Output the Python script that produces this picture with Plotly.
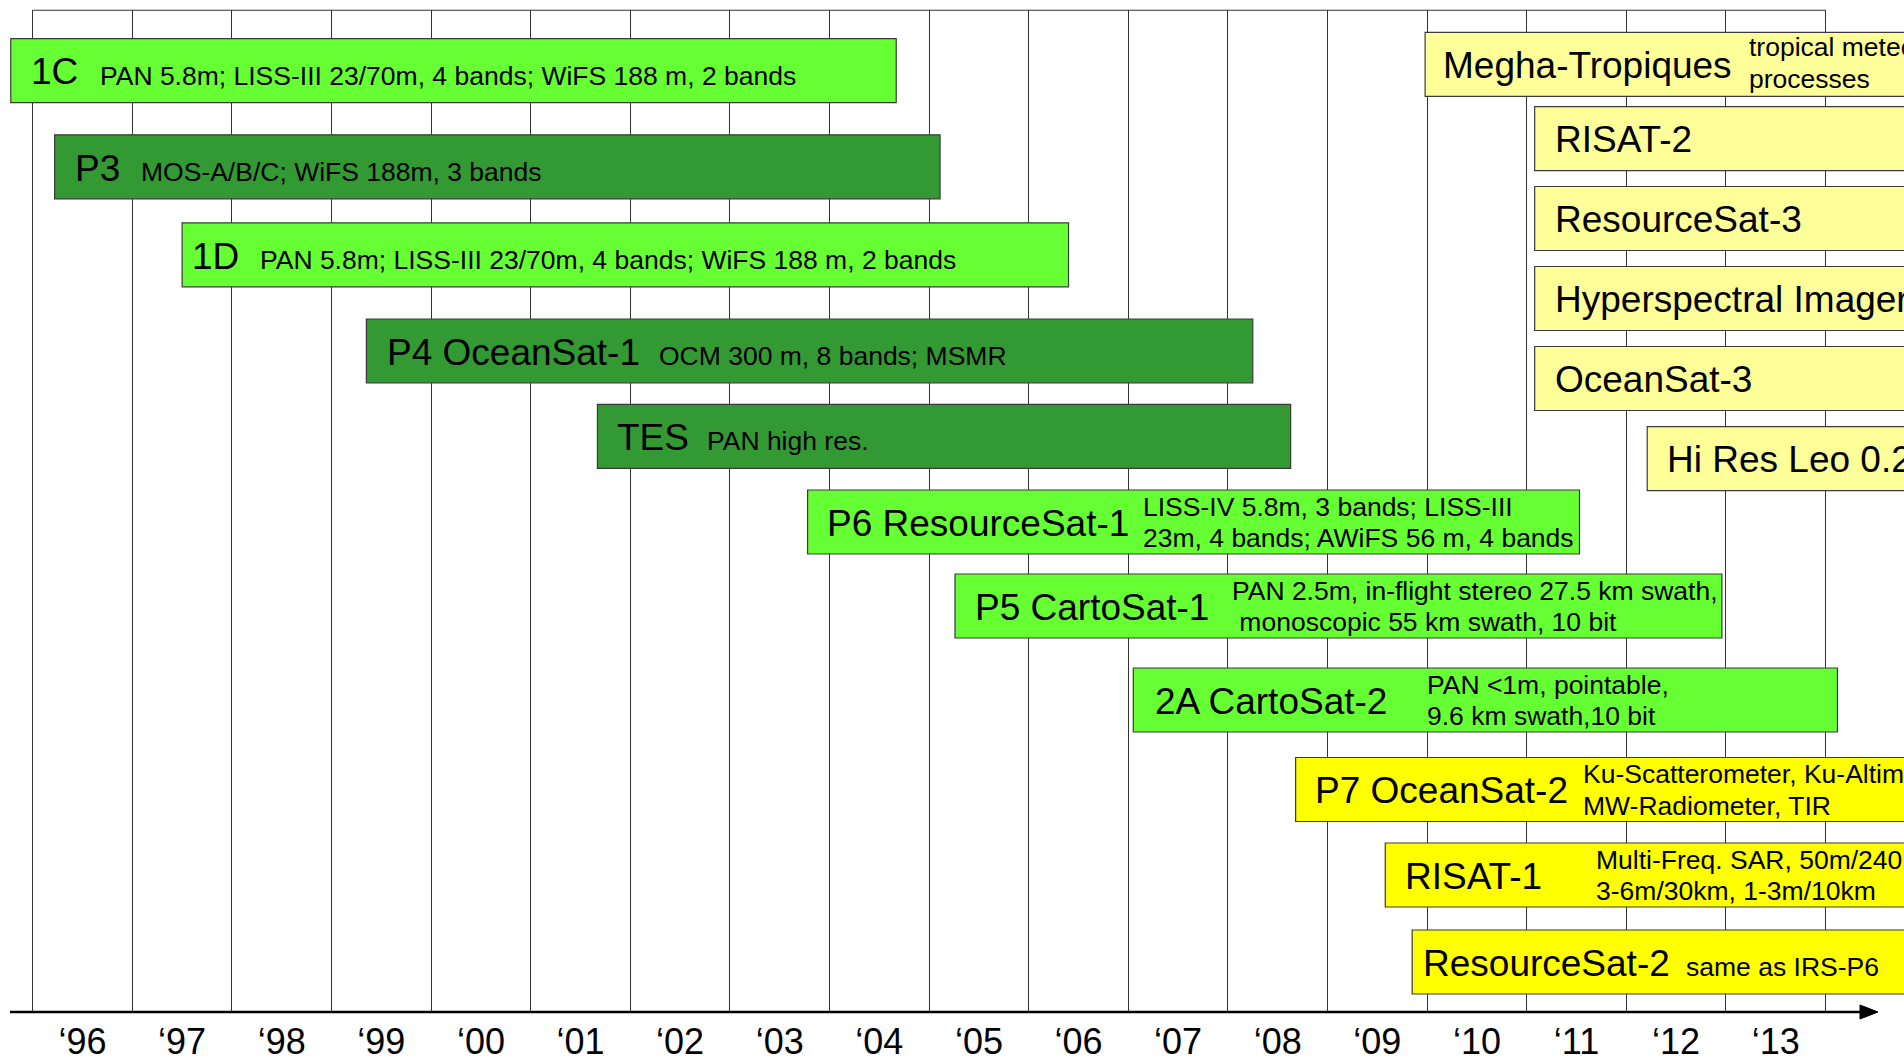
import plotly.graph_objects as go

# ------------------------------------------------------------------ data
satellites = [
    "1C", "P3", "1D", "P4 OceanSat-1", "TES", "P6 ResourceSat-1",
    "P5 CartoSat-1", "2A CartoSat-2", "P7 OceanSat-2", "RISAT-1",
    "ResourceSat-2", "Megha-Tropiques", "RISAT-2", "ResourceSat-3",
    "Hyperspectral Imager", "OceanSat-3", "Hi Res Leo 0.25m",
]
details = [
    "PAN 5.8m; LISS-III 23/70m, 4 bands; WiFS 188 m, 2 bands",
    "MOS-A/B/C; WiFS 188m, 3 bands",
    "PAN 5.8m; LISS-III 23/70m, 4 bands; WiFS 188 m, 2 bands",
    "OCM 300 m, 8 bands; MSMR",
    "PAN high res.",
    "LISS-IV 5.8m, 3 bands; LISS-III<br>23m, 4 bands; AWiFS 56 m, 4 bands",
    "PAN 2.5m, in-flight stereo 27.5 km swath,<br> monoscopic 55 km swath, 10 bit",
    "PAN &lt;1m, pointable,<br>9.6 km swath,10 bit",
    "Ku-Scatterometer, Ku-Altimeter,<br>MW-Radiometer, TIR",
    "Multi-Freq. SAR, 50m/240km,<br>3-6m/30km, 1-3m/10km",
    "same as IRS-P6",
    "tropical meteorology<br>processes",
    "", "", "", "", "",
]
start_year = [1995.78, 1996.22, 1997.50, 1999.35, 2001.67, 2003.78, 2005.26,
              2007.05, 2008.68, 2009.58, 2009.85, 2009.98, 2011.08, 2011.08,
              2011.08, 2011.08, 2012.21]
end_year = [2004.67, 2005.11, 2006.40, 2008.25, 2008.63, 2011.53, 2012.96,
            2014.12, 2015.5, 2015.5, 2015.5, 2015.5, 2015.5, 2015.5,
            2015.5, 2015.5, 2015.5]
group = ["IRS", "IRS-B", "IRS", "IRS-B", "IRS-B", "IRS", "IRS", "IRS",
         "NEXT", "NEXT", "NEXT", "PLAN", "PLAN", "PLAN", "PLAN", "PLAN", "PLAN"]
# vertical lane of each bar (chart row coordinate, top = small)
lane = [70.7, 166.8, 254.8, 351.0, 436.3, 522.0, 606.0, 700.0, 789.5, 875.0,
        962.0, 64.3, 138.7, 218.5, 298.5, 378.5, 458.7]
years = list(range(1996, 2014))
year_labels = ["\u2018%02d" % (y % 100) for y in years]

# ------------------------------------------------------------------ style / layout
W, H = 1904, 1061
PX0, PXY = 32.7, 99.6            # pixel of 1996 boundary, pixels per year
X0 = 1996 - PX0 / PXY
X1 = X0 + W / PXY
AXIS_PX, TOP_PX = 1012.0, 10.3


def px2yr(px):
    return X0 + px / PXY


def py(px):
    return 1 - px / H


COLORS = {"IRS": "#66FF33", "IRS-B": "#339933", "NEXT": "#FFFF00", "PLAN": "#FFFF99"}
FONT = "Arial, 'Liberation Sans', sans-serif"
BIG, SMALL = 37, 26.5
# text placement (pixels)
label_px = [31.7, 76.0, 192.7, 387.7, 618.3, 828.0, 975.7, 1155.7, 1315.8,
            1406.0, 1424.0, 1444.0, 1555.7, 1555.7, 1555.7, 1555.7, 1667.6]
desc_px = [100.0, 141.7, 260.0, 659.3, 707.7, 1143.0, 1232.0, 1427.7, 1583.3,
           1596.7, 1686.0, 1749.3, None, None, None, None, None]

fig = go.Figure()
fig.add_trace(go.Bar(
    orientation="h",
    y=lane,
    base=start_year,
    x=[e - s for s, e in zip(start_year, end_year)],
    width=64,
    marker=dict(color=[COLORS[g] for g in group],
                line=dict(color="#3a3a3a", width=1.2)),
    hoverinfo="skip",
    showlegend=False,
))

annotations = []
for i, name in enumerate(satellites):
    annotations.append(dict(
        x=px2yr(label_px[i] - 2), y=lane[i], xref="x", yref="y",
        text=name, showarrow=False, xanchor="left", yanchor="middle",
        yshift=-1.2, borderpad=0,
        font=dict(family=FONT, size=BIG, color="black"),
    ))
    if details[i]:
        lines = details[i].split("<br>")
        if len(lines) == 1:
            shifts = [-4.9]
        else:
            shifts = [15.1, -16.4]
            if i == 11:
                shifts = [17.5, -14.5]
        for ln, sh in zip(lines, shifts):
            annotations.append(dict(
                x=px2yr(desc_px[i] - 1.5), y=lane[i], xref="x", yref="y",
                text=ln, showarrow=False, xanchor="left", yanchor="middle",
                yshift=sh, borderpad=0,
                font=dict(family=FONT, size=SMALL, color="black"),
            ))

shapes = [
    # top border line of the grid
    dict(type="line", xref="paper", yref="paper",
         x0=PX0 / W, x1=(PX0 + PXY * 18) / W, y0=py(TOP_PX), y1=py(TOP_PX),
         line=dict(color="#333333", width=1.1), layer="below"),
    # time axis
    dict(type="line", xref="paper", yref="paper",
         x0=10 / W, x1=1862 / W, y0=py(AXIS_PX), y1=py(AXIS_PX),
         line=dict(color="black", width=2.5)),
    # arrow head
    dict(type="path", xref="paper", yref="paper",
         path="M %f %f L %f %f L %f %f Z" % (
             1860 / W, py(AXIS_PX - 7), 1878 / W, py(AXIS_PX),
             1860 / W, py(AXIS_PX + 7)),
         fillcolor="black", line=dict(color="black", width=1)),
]

fig.update_layout(
    width=W, height=H,
    margin=dict(l=0, r=0, t=0, b=0, autoexpand=False),
    paper_bgcolor="white", plot_bgcolor="white",
    bargap=0,
    xaxis=dict(
        range=[X0, X1], domain=[0, 1], anchor="y", automargin=False,
        showgrid=False, zeroline=False, showline=False,
        tickmode="array", tickvals=[y + 0.5 for y in years], ticktext=year_labels,
        ticks="", ticklabelstandoff=5,
        tickfont=dict(family=FONT, size=BIG - 1, color="black"),
        minor=dict(tickmode="linear", tick0=1996, dtick=1, showgrid=True,
                   gridcolor="#333333", gridwidth=1.1, ticks=""),
        fixedrange=True,
    ),
    yaxis=dict(
        range=[AXIS_PX, TOP_PX], domain=[py(AXIS_PX), py(TOP_PX)],
        visible=False, showgrid=False, zeroline=False, fixedrange=True,
        automargin=False,
    ),
    annotations=annotations,
    shapes=shapes,
    showlegend=False,
)

fig.write_html("out.html", config={"displayModeBar": False, "staticPlot": True})
